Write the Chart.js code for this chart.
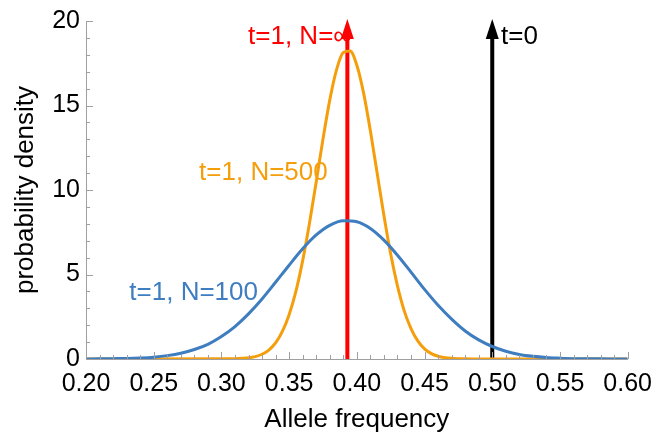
<!DOCTYPE html>
<html>
<head>
<meta charset="utf-8">
<script src="https://cdn.jsdelivr.net/npm/chart.js@4/dist/chart.umd.min.js"></script>
<style>
  html, body { margin: 0; padding: 0; background: #fff; }
  #wrap { width: 662px; height: 439px; }
</style>
</head>
<body>
<div id="wrap"><canvas id="driftChart" width="662" height="439"></canvas></div>
<script>
// allele frequency grid for N=100 curve
const xN100 = [0.20, 0.21, 0.22, 0.23, 0.24, 0.25, 0.26, 0.27, 0.28, 0.29,
               0.30, 0.31, 0.32, 0.33, 0.34, 0.35, 0.36, 0.37, 0.38, 0.39,
               0.40, 0.41, 0.42, 0.43, 0.44, 0.45, 0.46, 0.47, 0.48, 0.49,
               0.50, 0.51, 0.52, 0.53, 0.54, 0.55, 0.56, 0.57, 0.58, 0.59, 0.60];
const yN100 = [0.00, 0.01, 0.02, 0.03, 0.06, 0.11, 0.20, 0.34, 0.56, 0.87,
               1.33, 1.92, 2.67, 3.55, 4.54, 5.55, 6.52, 7.34, 7.91, 8.18,
               8.12, 7.72, 7.03, 6.14, 5.14, 4.12, 3.18, 2.36, 1.66, 1.13,
               0.74, 0.46, 0.27, 0.16, 0.09, 0.05, 0.02, 0.01, 0.01, 0.00, 0.00];

// N=500 curve (finer grid near the peak)
const xN500 = [0.20, 0.30, 0.31, 0.315, 0.32, 0.325, 0.33, 0.335, 0.34, 0.345,
               0.35, 0.355, 0.36, 0.365, 0.37, 0.375, 0.38, 0.385, 0.39, 0.395,
               0.40, 0.405, 0.41, 0.415, 0.42, 0.425, 0.43, 0.435, 0.44, 0.445,
               0.45, 0.455, 0.46, 0.465, 0.47, 0.475, 0.48, 0.49, 0.60];
const yN500 = [0.00, 0.01, 0.02, 0.04, 0.07, 0.14, 0.28, 0.53, 0.95, 1.63,
               2.62, 4.00, 5.82, 8.02, 10.48, 13.01, 15.32, 17.11, 18.13, 18.22,
               17.38, 15.73, 13.50, 11.00, 8.49, 6.21, 4.33, 2.85, 1.80, 1.07,
               0.60, 0.32, 0.16, 0.08, 0.04, 0.02, 0.01, 0.00, 0.00];

// delta peaks drawn as arrows
const arrowLabels = ['t=1, N=\u221E', 't=0'];
const arrowX = [0.393, 0.50];
const arrowTop = 20;

const curveLabels = ['t=1, N=100', 't=1, N=500'];

const xTicks = [0.20, 0.25, 0.30, 0.35, 0.40, 0.45, 0.50, 0.55, 0.60];
const yTicks = [0, 5, 10, 15, 20];

const FONT = 'Liberation Sans, Arial, sans-serif';
const BLUE = '#3e7dc0';
const ORANGE = '#f59e0c';

const toXY = (xs, ys) => xs.map((x, i) => ({ x: x, y: ys[i] }));

// text labels, placed in data units
const textNotes = [
    { text: curveLabels[0], x: 0.2795, y: 3.9, color: BLUE, align: 'center' },
    { text: curveLabels[1], x: 0.331, y: 11.0, color: ORANGE, align: 'center' },
    { text: arrowLabels[0], x: 0.358, y: 19.05, color: '#ff0000', align: 'center' },
    { text: arrowLabels[1], x: 0.5065, y: 19.05, color: '#000000', align: 'left' }
];

const decorPlugin = {
    id: 'decor',
    afterDatasetsDraw(chart) {
        const ctx = chart.ctx;
        const xs = chart.scales.x, ys = chart.scales.y;
        const area = chart.chartArea;
        ctx.save();
        // inward ticks
        ctx.strokeStyle = '#a0a0a0';
        ctx.lineWidth = 1;
        for (let i = 0; i <= 40; i++) {
            const v = 0.2 + i * 0.01;
            const px = Math.round(xs.getPixelForValue(v)) + 0.5;
            const len = (i % 5 === 0) ? 7 : 4;
            ctx.beginPath();
            ctx.moveTo(px, area.bottom);
            ctx.lineTo(px, area.bottom - len);
            ctx.stroke();
        }
        for (let i = 0; i <= 20; i++) {
            const py = Math.round(ys.getPixelForValue(i)) + 0.5;
            const len = (i % 5 === 0) ? 7 : 4;
            ctx.beginPath();
            ctx.moveTo(area.left, py);
            ctx.lineTo(area.left + len, py);
            ctx.stroke();
        }
        // arrowheads
        const headColors = ['#ff0000', '#000000'];
        arrowX.forEach((ax, i) => {
            const px = xs.getPixelForValue(ax);
            const py = ys.getPixelForValue(arrowTop);
            ctx.fillStyle = headColors[i];
            ctx.beginPath();
            ctx.moveTo(px, py - 2);
            ctx.lineTo(px - 6.5, py + 18);
            ctx.lineTo(px + 6.5, py + 18);
            ctx.closePath();
            ctx.fill();
        });
        // text
        ctx.font = '26px ' + FONT;
        ctx.textBaseline = 'middle';
        textNotes.forEach(n => {
            ctx.fillStyle = n.color;
            ctx.textAlign = n.align;
            ctx.fillText(n.text, xs.getPixelForValue(n.x), ys.getPixelForValue(n.y));
        });
        ctx.restore();
    }
};

const ctx = document.getElementById('driftChart').getContext('2d');

new Chart(ctx, {
    type: 'line',
    data: {
        datasets: [
            {
                label: curveLabels[0],
                data: toXY(xN100, yN100),
                borderColor: BLUE,
                borderWidth: 3,
                pointRadius: 0,
                cubicInterpolationMode: 'monotone',
                fill: false
            },
            {
                label: curveLabels[1],
                data: toXY(xN500, yN500),
                borderColor: ORANGE,
                borderWidth: 3,
                pointRadius: 0,
                cubicInterpolationMode: 'monotone',
                fill: false
            },
            {
                label: arrowLabels[0],
                data: [{ x: arrowX[0], y: 0 }, { x: arrowX[0], y: arrowTop - 1 }],
                borderColor: '#ff0000',
                borderWidth: 4,
                pointRadius: 0,
                clip: false
            },
            {
                label: arrowLabels[1],
                data: [{ x: arrowX[1], y: 0 }, { x: arrowX[1], y: arrowTop - 1 }],
                borderColor: '#000000',
                borderWidth: 4,
                pointRadius: 0,
                clip: false
            }
        ]
    },
    options: {
        responsive: false,
        animation: false,
        layout: { padding: { top: 21, right: 27, left: 0, bottom: 0 } },
        plugins: {
            legend: { display: false },
            tooltip: { enabled: false }
        },
        scales: {
            x: {
                type: 'linear',
                min: 0.2,
                max: 0.6,
                afterBuildTicks: s => { s.ticks = xTicks.map(v => ({ value: v })); },
                afterFit: s => { s.height = 80; },
                border: { color: '#a0a0a0', width: 1 },
                grid: { display: false, drawTicks: false, tickLength: 0 },
                ticks: {
                    color: '#000',
                    font: { family: FONT, size: 25 },
                    padding: 10,
                    maxRotation: 0,
                    callback: v => Number(v).toFixed(2)
                },
                title: {
                    display: true,
                    text: 'Allele frequency',
                    color: '#000',
                    font: { family: FONT, size: 26 },
                    padding: { top: 4, bottom: 4 }
                }
            },
            y: {
                min: 0,
                max: 20,
                afterBuildTicks: s => { s.ticks = yTicks.map(v => ({ value: v })); },
                afterFit: s => { s.width = 86; },
                border: { color: '#a0a0a0', width: 1 },
                grid: { display: false, drawTicks: false, tickLength: 0 },
                ticks: {
                    color: '#000',
                    font: { family: FONT, size: 25 },
                    padding: 6
                },
                title: {
                    display: true,
                    text: 'probability density',
                    color: '#000',
                    font: { family: FONT, size: 26 },
                    padding: { top: 10, bottom: 4 }
                }
            }
        }
    },
    plugins: [decorPlugin]
});
</script>
</body>
</html>
